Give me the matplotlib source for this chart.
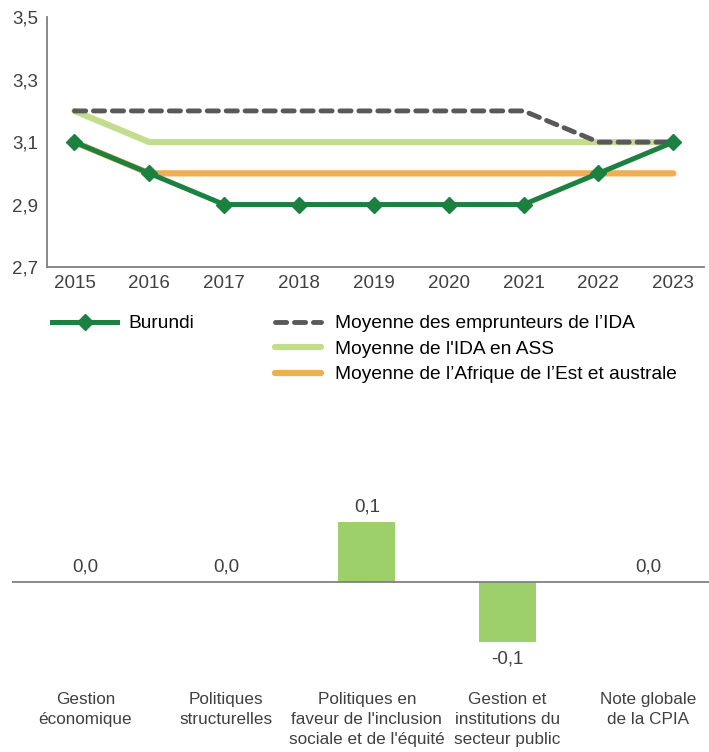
import matplotlib
matplotlib.use('Agg')
import matplotlib.pyplot as plt
from matplotlib.lines import Line2D

years = [2015, 2016, 2017, 2018, 2019, 2020, 2021, 2022, 2023]
burundi = [3.1, 3.0, 2.9, 2.9, 2.9, 2.9, 2.9, 3.0, 3.1]
ida_moy = [3.2, 3.2, 3.2, 3.2, 3.2, 3.2, 3.2, 3.1, 3.1]
ida_ass = [3.2, 3.1, 3.1, 3.1, 3.1, 3.1, 3.1, 3.1, 3.1]
afr_est = [3.1, 3.0, 3.0, 3.0, 3.0, 3.0, 3.0, 3.0, 3.0]
y_ticks = [2.7, 2.9, 3.1, 3.3, 3.5]

categories = ["Gestion\néconomique", "Politiques\nstructurelles",
              "Politiques en\nfaveur de l'inclusion\nsociale et de l'équité",
              "Gestion et\ninstitutions du\nsecteur public",
              "Note globale\nde la CPIA"]
changes = [0.0, 0.0, 0.1, -0.1, 0.0]

plt.rcParams['font.family'] = ['Liberation Sans', 'DejaVu Sans']
txt = '#404040'
c_bur = '#1b8040'
c_ida = '#595959'
c_ass = '#c1dd8d'
c_est = '#f0ae52'
c_bar = '#9dd06b'

fig = plt.figure(figsize=(7.09, 7.52), dpi=100)

# courbes
ax = fig.add_axes([0.066, 0.645, 0.927, 0.332])
ax.plot(years, afr_est, color=c_est, lw=4.5, solid_capstyle='round')
ax.plot(years, ida_ass, color=c_ass, lw=4.5, solid_capstyle='round')
ax.plot(years, ida_moy, color=c_ida, lw=3.5, linestyle=(0, (2.3, 1.6)),
        dash_capstyle='round')
ax.plot(years, burundi, color=c_bur, lw=3.6, marker='D', markersize=8.5)
ax.set_xlim(2014.63, 2023.41)
ax.set_ylim(2.7, 3.5)
ax.set_xticks(years)
ax.set_yticks(y_ticks, [f'{v:.1f}'.replace('.', ',') for v in y_ticks])
ax.tick_params(length=0, labelsize=13.5, labelcolor=txt, pad=6)
for s in ['top', 'right']:
    ax.spines[s].set_visible(False)
for s in ['left', 'bottom']:
    ax.spines[s].set_color('#808080')
    ax.spines[s].set_linewidth(1.3)

h1 = [Line2D([], [], color=c_bur, lw=3.6, marker='D', markersize=8.5)]
fig.legend(h1, ['Burundi'], loc='upper left',
           bbox_to_anchor=(52 / 709, 1 - 315 / 752), frameon=False,
           fontsize=13.8, handlelength=3.4, handletextpad=0.6,
           borderpad=0, borderaxespad=0, labelcolor='black')
h2 = [Line2D([], [], color=c_ida, lw=3.5, linestyle=(0, (2.3, 1.6)), dash_capstyle='round'),
      Line2D([], [], color=c_ass, lw=4.5, solid_capstyle='round'),
      Line2D([], [], color=c_est, lw=4.5, solid_capstyle='round')]
fig.legend(h2, ["Moyenne des emprunteurs de l’IDA", "Moyenne de l'IDA en ASS",
                "Moyenne de l’Afrique de l’Est et australe"],
           loc='upper left', bbox_to_anchor=(275 / 709, 1 - 315 / 752),
           frameon=False, fontsize=13.8, handlelength=2.4, handletextpad=0.75,
           labelspacing=0.42, borderpad=0, borderaxespad=0, labelcolor='black')

# barres
bx = fig.add_axes([0.017, 0.1223, 0.983, 0.2074])
pos = list(range(len(categories)))
bx.bar(pos, changes, width=0.405, color=c_bar)
bx.axhline(0, color='#808080', lw=1.3)
for x, v in zip(pos, changes):
    lab = f'{v:.1f}'.replace('.', ',')
    if v < 0:
        bx.annotate(lab, (x, v), xytext=(0, -6), textcoords='offset points',
                    ha='center', va='top', fontsize=13.5, color=txt)
    else:
        bx.annotate(lab, (x, v), xytext=(0, 5), textcoords='offset points',
                    ha='center', va='bottom', fontsize=13.5, color=txt)
bx.set_xlim(-0.52, 4.43)
bx.set_ylim(-0.13, 0.13)
bx.set_yticks([])
bx.set_xticks(pos, categories)
bx.tick_params(axis='x', length=0, pad=23, labelsize=12.3, labelcolor=txt)
for lbl in bx.get_xticklabels():
    lbl.set_linespacing(1.42)
for s in bx.spines.values():
    s.set_visible(False)

fig.savefig('out.png', dpi=100)
